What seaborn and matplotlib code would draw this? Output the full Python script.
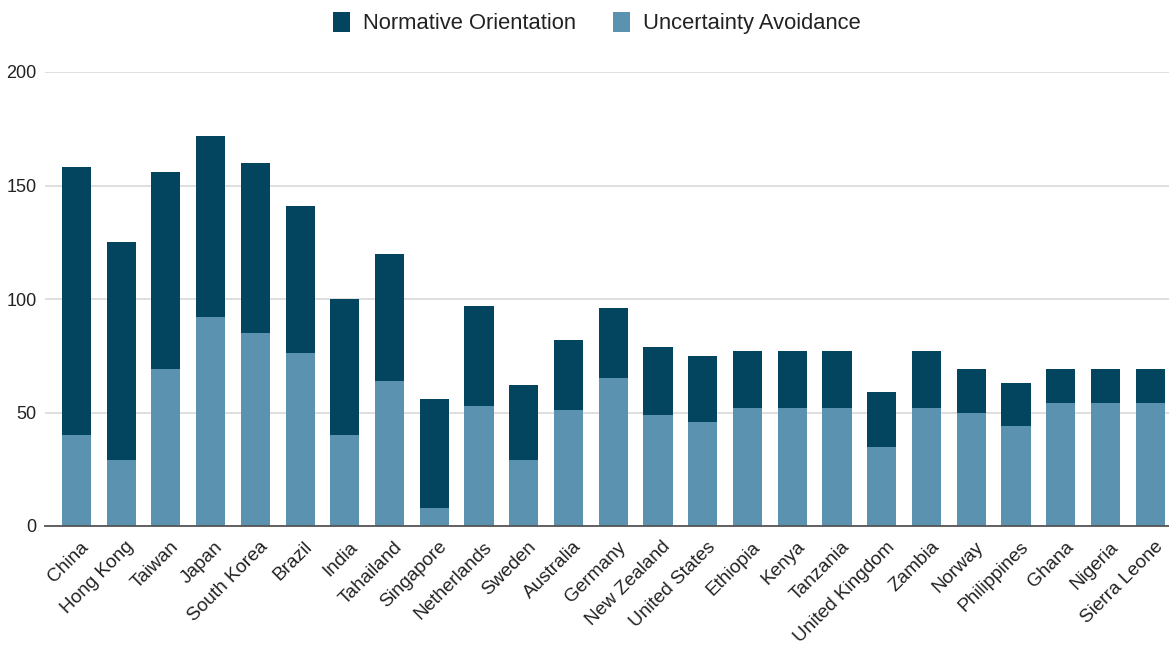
import matplotlib
matplotlib.use("Agg")
import matplotlib.pyplot as plt
from matplotlib.patches import Patch
import matplotlib.transforms as mtransforms
import seaborn as sns
import pandas as pd

countries = ["China", "Hong Kong", "Taiwan", "Japan", "South Korea", "Brazil", "India",
             "Tahailand", "Singapore", "Netherlands", "Sweden", "Australia", "Germany",
             "New Zealand", "United States", "Ethiopia", "Kenya", "Tanzania",
             "United Kingdom", "Zambia", "Norway", "Philippines", "Ghana", "Nigeria",
             "Sierra Leone"]
uncertainty_avoidance = [40, 29, 69, 92, 85, 76, 40, 64, 8, 53, 29, 51, 65, 49, 46,
                         52, 52, 52, 35, 52, 50, 44, 54, 54, 54]
normative_orientation = [118, 96, 87, 80, 75, 65, 60, 56, 48, 44, 33, 31, 31, 30, 29,
                         25, 25, 25, 24, 25, 19, 19, 15, 15, 15]
y_ticks = [0, 50, 100, 150, 200]

DARK = "#03445f"
LIGHT = "#5a92b0"

sns.set_theme(style="white")
plt.rcParams["font.family"] = ["Liberation Sans", "DejaVu Sans"]

df = pd.DataFrame({
    "country": countries,
    "ua": uncertainty_avoidance,
    "no": normative_orientation,
})
df["total"] = df["ua"] + df["no"]

fig = plt.figure(figsize=(11.69, 6.46), dpi=100)
ax = fig.add_axes([45 / 1169, 1 - 526 / 646, 1 - 45 / 1169, (526 - 72) / 646])

# stacked bars: full height in the dark tone, lower segment overlaid in the light tone
sns.barplot(data=df, x="country", y="total", color=DARK, saturation=1,
            width=0.65, ax=ax, edgecolor="none")
sns.barplot(data=df, x="country", y="ua", color=LIGHT, saturation=1,
            width=0.65, ax=ax, edgecolor="none")

ax.set_ylim(0, 200)
ax.set_xlim(-0.70, len(countries) - 1 + 0.42)
ax.set_yticks(y_ticks)
ax.yaxis.grid(True, color="#d6d6d6", linewidth=1.1)
ax.set_axisbelow(True)
for side in ["top", "right", "left"]:
    ax.spines[side].set_visible(False)
ax.spines["bottom"].set_color("#555555")
ax.spines["bottom"].set_linewidth(1.3)
ax.spines["bottom"].set_zorder(5)

ax.set_xlabel("")
ax.set_ylabel("")
ax.tick_params(axis="both", length=0, colors="#222222")
ax.tick_params(axis="y", labelsize=13, pad=6)
ax.tick_params(axis="x", labelsize=13.7, pad=6)

ax.set_xticks(range(len(countries)))
ax.set_xticklabels(countries, rotation=45, ha="right", va="center",
                   rotation_mode="anchor")
offset = mtransforms.ScaledTranslation(10 / 100, -10 / 100, fig.dpi_scale_trans)
for lbl in ax.get_xticklabels():
    lbl.set_transform(lbl.get_transform() + offset)

handles = [Patch(facecolor=DARK, edgecolor="none", label="Normative Orientation"),
           Patch(facecolor=LIGHT, edgecolor="none", label="Uncertainty Avoidance")]
fig.legend(handles=handles, loc="center", bbox_to_anchor=(597 / 1169, 1 - 23 / 646),
           ncol=2, frameon=False, fontsize=15.8, handlelength=0.75, handleheight=1.05,
           handletextpad=0.6, columnspacing=1.7, labelcolor="#222222")

fig.savefig("out.png", dpi=100)
